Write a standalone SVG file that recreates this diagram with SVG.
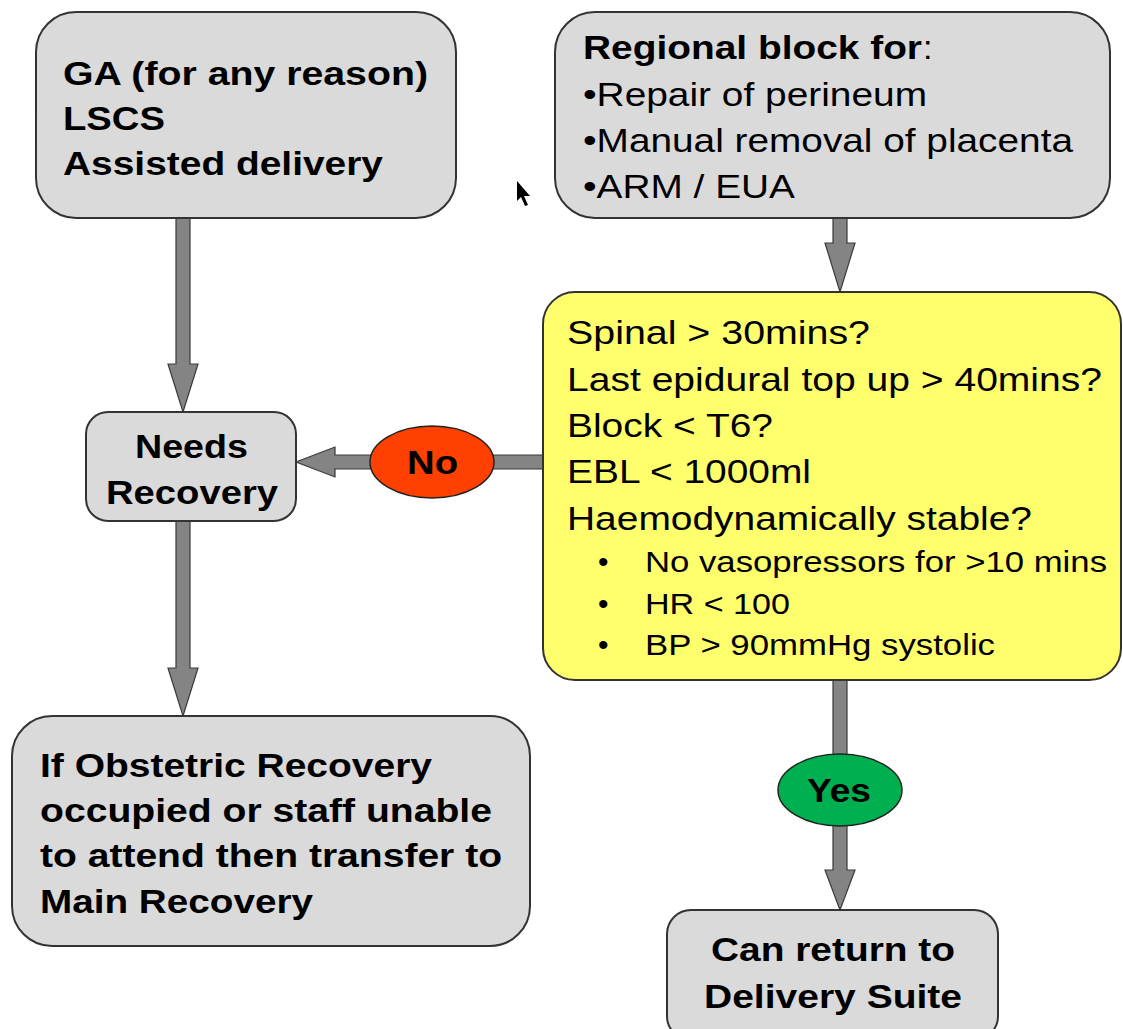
<svg xmlns="http://www.w3.org/2000/svg" width="1123" height="1029" viewBox="0 0 1123 1029">
<style>
.box{fill:#DADADA;stroke:#333;stroke-width:2}
.yel{fill:#FFFF6E;stroke:#333;stroke-width:2}
.arr{fill:#848484;stroke:#3a3a3a;stroke-width:1.2;stroke-linejoin:miter}
.b{font-family:"Liberation Sans",Arial,sans-serif;font-weight:bold;font-size:34px;fill:#000}
.n{font-family:"Liberation Sans",Arial,sans-serif;font-size:34px;fill:#000}
.s{font-family:"Liberation Sans",Arial,sans-serif;font-size:30px;fill:#000}
</style>
<rect width="1123" height="1029" fill="#fff"/>
<g id="connectors">
<polygon class="arr" points="176,218 190,218 190,364 198,364 183,412 168,364 176,364"/>
<polygon class="arr" points="833,218 847,218 847,243 855,243 840,292 825,243 833,243"/>
<polygon class="arr" points="543,455 543,469 335,469 335,477 296,462 335,447 335,455"/>
<polygon class="arr" points="176,521 190,521 190,668 198,668 183,716 168,668 176,668"/>
<polygon class="arr" points="833,680 847,680 847,870 855,870 840,910 825,870 833,870"/>
</g>
<g id="node-ga">
<rect class="box" x="36" y="12" width="420" height="206" rx="40"/>
<text class="b" x="63" y="85" textLength="365" lengthAdjust="spacingAndGlyphs">GA (for any reason)</text>
<text class="b" x="63" y="130" textLength="102" lengthAdjust="spacingAndGlyphs">LSCS</text>
<text class="b" x="63" y="175" textLength="320" lengthAdjust="spacingAndGlyphs">Assisted delivery</text>
</g>
<g id="node-regional">
<rect class="box" x="555" y="12" width="555" height="206" rx="40"/>
<text class="b" x="583" y="59" textLength="339" lengthAdjust="spacingAndGlyphs">Regional block for</text>
<text class="n" x="923" y="59">:</text>
<text class="n" x="583" y="106" textLength="344" lengthAdjust="spacingAndGlyphs">•Repair of perineum</text>
<text class="n" x="583" y="152" textLength="490" lengthAdjust="spacingAndGlyphs">•Manual removal of placenta</text>
<text class="n" x="583" y="198" textLength="212" lengthAdjust="spacingAndGlyphs">•ARM / EUA</text>
</g>
<g id="node-criteria">
<rect class="yel" x="543" y="292" width="578" height="388" rx="32"/>
<text class="n" x="567" y="344" textLength="303" lengthAdjust="spacingAndGlyphs">Spinal &gt; 30mins?</text>
<text class="n" x="567" y="391" textLength="535" lengthAdjust="spacingAndGlyphs">Last epidural top up &gt; 40mins?</text>
<text class="n" x="567" y="437" textLength="206" lengthAdjust="spacingAndGlyphs">Block &lt; T6?</text>
<text class="n" x="567" y="483" textLength="244" lengthAdjust="spacingAndGlyphs">EBL &lt; 1000ml</text>
<text class="n" x="567" y="530" textLength="465" lengthAdjust="spacingAndGlyphs">Haemodynamically stable?</text>
<text class="s" x="598" y="572">•</text><text class="s" x="645" y="572" textLength="462" lengthAdjust="spacingAndGlyphs">No vasopressors for &gt;10 mins</text>
<text class="s" x="598" y="614">•</text><text class="s" x="645" y="614" textLength="145" lengthAdjust="spacingAndGlyphs">HR &lt; 100</text>
<text class="s" x="598" y="655">•</text><text class="s" x="645" y="655" textLength="350" lengthAdjust="spacingAndGlyphs">BP &gt; 90mmHg systolic</text>
</g>
<g id="node-needs">
<rect class="box" x="86" y="412" width="210" height="109" rx="22"/>
<text class="b" x="135" y="458" textLength="113" lengthAdjust="spacingAndGlyphs">Needs</text>
<text class="b" x="106" y="504" textLength="172" lengthAdjust="spacingAndGlyphs">Recovery</text>
</g>
<g id="node-no">
<ellipse cx="432" cy="462" rx="62" ry="36" fill="#FF4000" stroke="#222" stroke-width="1.5"/>
<text class="b" x="407" y="474" textLength="51" lengthAdjust="spacingAndGlyphs">No</text>
</g>
<g id="node-yes">
<ellipse cx="840" cy="790" rx="62" ry="36" fill="#00B050" stroke="#222" stroke-width="1.5"/>
<text class="b" x="807" y="802" textLength="64" lengthAdjust="spacingAndGlyphs">Yes</text>
</g>
<g id="node-transfer">
<rect class="box" x="12" y="716" width="518" height="230" rx="40"/>
<text class="b" x="40" y="777" textLength="392" lengthAdjust="spacingAndGlyphs">If Obstetric Recovery</text>
<text class="b" x="40" y="822" textLength="452" lengthAdjust="spacingAndGlyphs">occupied or staff unable</text>
<text class="b" x="40" y="867" textLength="462" lengthAdjust="spacingAndGlyphs">to attend then transfer to</text>
<text class="b" x="40" y="913" textLength="273" lengthAdjust="spacingAndGlyphs">Main Recovery</text>
</g>
<g id="node-return">
<rect class="box" x="667" y="910" width="331" height="130" rx="24"/>
<text class="b" x="711" y="961" textLength="244" lengthAdjust="spacingAndGlyphs">Can return to</text>
<text class="b" x="704" y="1008" textLength="258" lengthAdjust="spacingAndGlyphs">Delivery Suite</text>
</g>
<g id="cursor">
<polygon points="517,181 517,201 521,197 525,206 528,205 524,196 530,196" fill="#000"/>
</g>
</svg>
